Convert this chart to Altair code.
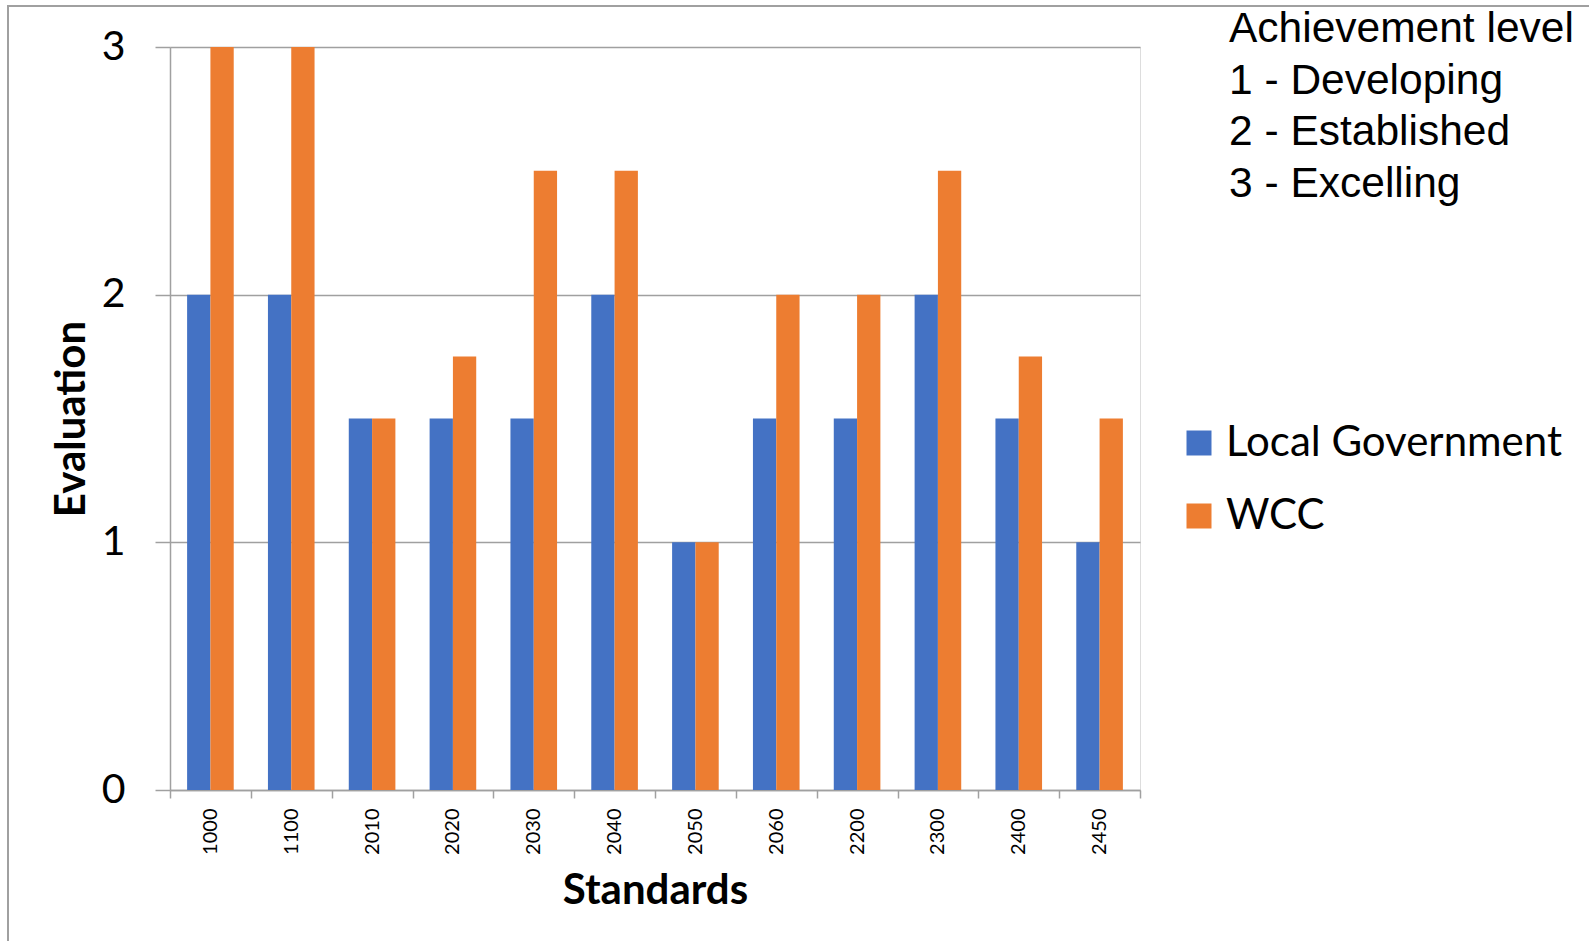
import altair as alt
import pandas as pd

standards = ["1000", "1100", "2010", "2020", "2030", "2040", "2050", "2060", "2200", "2300", "2400", "2450"]
local_gov = [2, 2, 1.5, 1.5, 1.5, 2, 1, 1.5, 1.5, 2, 1.5, 1]
wcc = [3, 3, 1.5, 1.75, 2.5, 2.5, 1, 2, 2, 2.5, 1.75, 1.5]
series = ["Local Government", "WCC"]
colors = ["#4472C4", "#ED7D31"]
y_ticks = [0, 1, 2, 3]
achievement_lines = ["Achievement level", "1 - Developing", "2 - Established", "3 - Excelling"]

rows = []
for s, a, b in zip(standards, local_gov, wcc):
    rows.append({"Standard": s, "Series": series[0], "Value": a})
    rows.append({"Standard": s, "Series": series[1], "Value": b})
df = pd.DataFrame(rows)

W, H = 970, 743
PL, PT = 170, 47
GRAY = "#A0A0A0"
FONT = "Lato"

bars = alt.Chart(df).mark_bar().encode(
    x=alt.X(
        "Standard:N", sort=standards,
        scale=alt.Scale(paddingInner=0, paddingOuter=0),
        axis=alt.Axis(
            title="Standards", labelAngle=-90, tickBand="extent", grid=False,
            domainColor=GRAY, domainWidth=1.5, tickColor=GRAY, tickWidth=1.5, tickSize=8,
            labelPadding=10, labelFont=FONT, labelFontSize=20, labelColor="#000",
            titleFont=FONT, titleFontSize=42, titleFontWeight="bold", titleColor="#000",
            titleX=W / 2, titleY=113, titleBaseline="alphabetic", titleAlign="center",
        ),
    ),
    xOffset=alt.XOffset("Series:N", sort=series,
                        scale=alt.Scale(paddingInner=0, paddingOuter=0.734)),
    y=alt.Y(
        "Value:Q",
        scale=alt.Scale(domain=[0, 3], nice=False),
        axis=alt.Axis(
            title="Evaluation", values=y_ticks, format="d", grid=True,
            gridColor=GRAY, gridWidth=1.5, domainColor=GRAY, domainWidth=1.5,
            tickColor=GRAY, tickWidth=1.5, tickSize=15, labelPadding=30,
            labelFont=FONT, labelFontSize=41, labelColor="#000",
            titleFont=FONT, titleFontSize=42, titleFontWeight="bold", titleColor="#000",
            titleX=-86, titleY=H / 2, titleAngle=270, titleBaseline="alphabetic",
            titleAlign="center",
        ),
    ),
    color=alt.Color(
        "Series:N", sort=series,
        scale=alt.Scale(domain=series, range=colors),
        legend=alt.Legend(
            title=None, orient="none", legendX=1008, legendY=375,
            symbolType="square", symbolSize=625, symbolStrokeWidth=0,
            labelFont=FONT, labelFontSize=42, labelColor="#000", labelLimit=500,
            labelOffset=6, rowPadding=31, padding=0,
        ),
    ),
)

note = alt.Chart(alt.Data(values=[{"k": 1}])).mark_text(
    text=achievement_lines, align="left", baseline="alphabetic",
    font="Liberation Sans", fontSize=42.5, lineHeight=51.5, color="#000",
).encode(x=alt.value(1059), y=alt.value(-5))

frame = alt.Chart(alt.Data(values=[{"k": 1}])).mark_rect(
    fillOpacity=0, stroke=GRAY, strokeWidth=2,
).encode(
    x=alt.value(8 - PL), x2=alt.value(1589 - PL + 20),
    y=alt.value(6 - PT), y2=alt.value(941 - PT + 20),
)

chart = alt.layer(frame, bars, note).properties(
    width=W, height=H,
    autosize=alt.AutoSizeParams(type="none"),
    padding={"left": PL, "top": PT, "right": 1589 - PL - W, "bottom": 941 - PT - H},
).configure_view(stroke=None).configure(background="white")

chart.save("out.html", embed_options={"renderer": "svg", "actions": False})
